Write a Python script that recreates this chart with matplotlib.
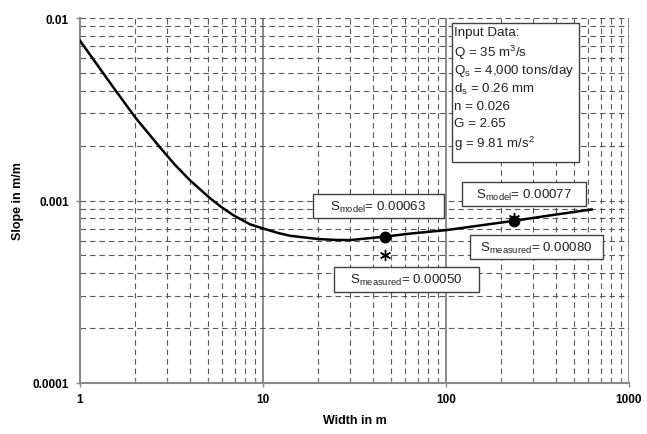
import matplotlib.pyplot as plt
from matplotlib.patches import Rectangle
from matplotlib.ticker import FixedLocator, NullFormatter, FixedFormatter, LogLocator

plt.rcParams['font.family'] = ['Liberation Sans', 'DejaVu Sans']
plt.rcParams['mathtext.fontset'] = 'custom'
plt.rcParams['mathtext.rm'] = 'Liberation Sans'
plt.rcParams['mathtext.it'] = 'Liberation Sans'

# curve
width = [1, 1.5, 2.0, 2.73, 3.3, 3.99, 5.13, 5.9, 6.88, 8.5, 10.0, 12.0, 14.05,
         20.0, 25.0, 30.0, 46.4, 65, 100, 235, 400, 625]
slope = [0.00751, 0.00425, 0.00286, 0.00196, 0.00157, 0.00129, 0.00103, 0.000923,
         0.000831, 0.00074, 0.000703, 0.000665, 0.000641, 0.000615, 0.000608,
         0.000607, 0.000634, 0.00066, 0.000688, 0.000774, 0.000838, 0.000893]

model_w = [46.4, 235]
model_s = [0.00063, 0.00077]
measured_w = [46.4, 235]
measured_s = [0.00050, 0.00080]

input_lines = ['Input Data:',
               r'Q = 35 m$^\mathregular{3}$/s',
               r'Q$_\mathregular{s}$ = 4,000 tons/day',
               r'd$_\mathregular{s}$ = 0.26 mm',
               'n = 0.026',
               'G = 2.65',
               r'g = 9.81 m/s$^\mathregular{2}$']

x_ticks = [1, 10, 100, 1000]
y_ticks = [0.0001, 0.001, 0.01]
y_labels = ['0.0001', '0.001', '0.01']

W, H = 647, 435
fig = plt.figure(figsize=(W / 100, H / 100), dpi=100)
L, R, T, B = 80, 629, 19, 384
ax = fig.add_axes([L / W, 1 - B / H, (R - L) / W, (B - T) / H])


def axp(px, py):
    # pixel position in the picture -> axes fraction
    return (px - L) / (R - L), (B - py) / (B - T)


ax.set_xscale('log')
ax.set_yscale('log')
ax.set_xlim(1, 1000)
ax.set_ylim(0.0001, 0.01)

ax.xaxis.set_major_locator(FixedLocator(x_ticks))
ax.xaxis.set_major_formatter(FixedFormatter([str(v) for v in x_ticks]))
ax.xaxis.set_minor_locator(LogLocator(base=10, subs=range(2, 10)))
ax.xaxis.set_minor_formatter(NullFormatter())
ax.yaxis.set_major_locator(FixedLocator(y_ticks))
ax.yaxis.set_major_formatter(FixedFormatter(y_labels))
ax.yaxis.set_minor_locator(LogLocator(base=10, subs=range(2, 10)))
ax.yaxis.set_minor_formatter(NullFormatter())

grid_dash = dict(color='#5a5a5a', linestyle=(0, (5, 3.5)), linewidth=0.8)
ax.grid(True, which='major', axis='x', color='#8a8a8a', linestyle='-', linewidth=1.4)
ax.grid(True, which='minor', axis='x', **grid_dash)
ax.grid(True, which='both', axis='y', **grid_dash)
ax.set_axisbelow(True)

for s in ['top', 'right']:
    ax.spines[s].set_visible(False)
for s in ['left', 'bottom']:
    ax.spines[s].set_color('#8a8a8a')
    ax.spines[s].set_linewidth(1.5)

ax.tick_params(axis='y', which='major', direction='out', length=3, width=1,
               color='#8a8a8a', pad=5, labelsize=8.5)
ax.tick_params(axis='y', which='minor', length=0)
ax.tick_params(axis='x', which='major', direction='out', length=3, width=1,
               color='#8a8a8a', pad=4, labelsize=8.5)
ax.tick_params(axis='x', which='minor', direction='in', length=3, width=1, color='#8a8a8a')
for lab in ax.get_xticklabels() + ax.get_yticklabels():
    lab.set_fontweight('bold')

ax.plot(width, slope, color='black', linewidth=1.8, zorder=3)
ax.plot(measured_w, measured_s, linestyle='none', marker=(6, 2, 0), markersize=8,
        markeredgewidth=1, color='black', zorder=4)
ax.plot(model_w, model_s, linestyle='none', marker='o', markersize=7.5,
        color='black', zorder=5)

ax.set_xlabel('Width in m', fontsize=9, fontweight='bold', labelpad=7)
ax.set_ylabel('Slope in m/m', fontsize=9, fontweight='bold', labelpad=6)

# input data box
x0, y0 = axp(452, 163)
x1, y1 = axp(579, 24)
ax.add_patch(Rectangle((x0, y0), x1 - x0, y1 - y0, transform=ax.transAxes,
                       facecolor='white', edgecolor='#404040', linewidth=1, zorder=6))
line_y = [33, 53, 71, 89, 107, 124, 144]
for txt, py in zip(input_lines, line_y):
    tx, ty = axp(454, py)
    ax.text(tx, ty, txt, transform=ax.transAxes, fontsize=9.6, va='center', ha='left',
            color='#222222', zorder=7)

# value boxes
boxes = [((313, 195, 444, 219), r'S$_\mathregular{model}$= 0.00063'),
         ((334, 268, 479, 293), r'S$_\mathregular{measured}$= 0.00050'),
         ((462, 183, 586, 207), r'S$_\mathregular{model}$= 0.00077'),
         ((470, 236, 603, 260), r'S$_\mathregular{measured}$= 0.00080')]
for (px0, py0, px1, py1), txt in boxes:
    bx0, by0 = axp(px0, py1)
    bx1, by1 = axp(px1, py0)
    ax.add_patch(Rectangle((bx0, by0), bx1 - bx0, by1 - by0, transform=ax.transAxes,
                           facecolor='white', edgecolor='#404040', linewidth=1, zorder=6))
    ax.text((bx0 + bx1) / 2, (by0 + by1) / 2, txt, transform=ax.transAxes, fontsize=9.6,
            ha='center', va='center', color='#222222', zorder=7)

fig.savefig('out.png', dpi=100)
